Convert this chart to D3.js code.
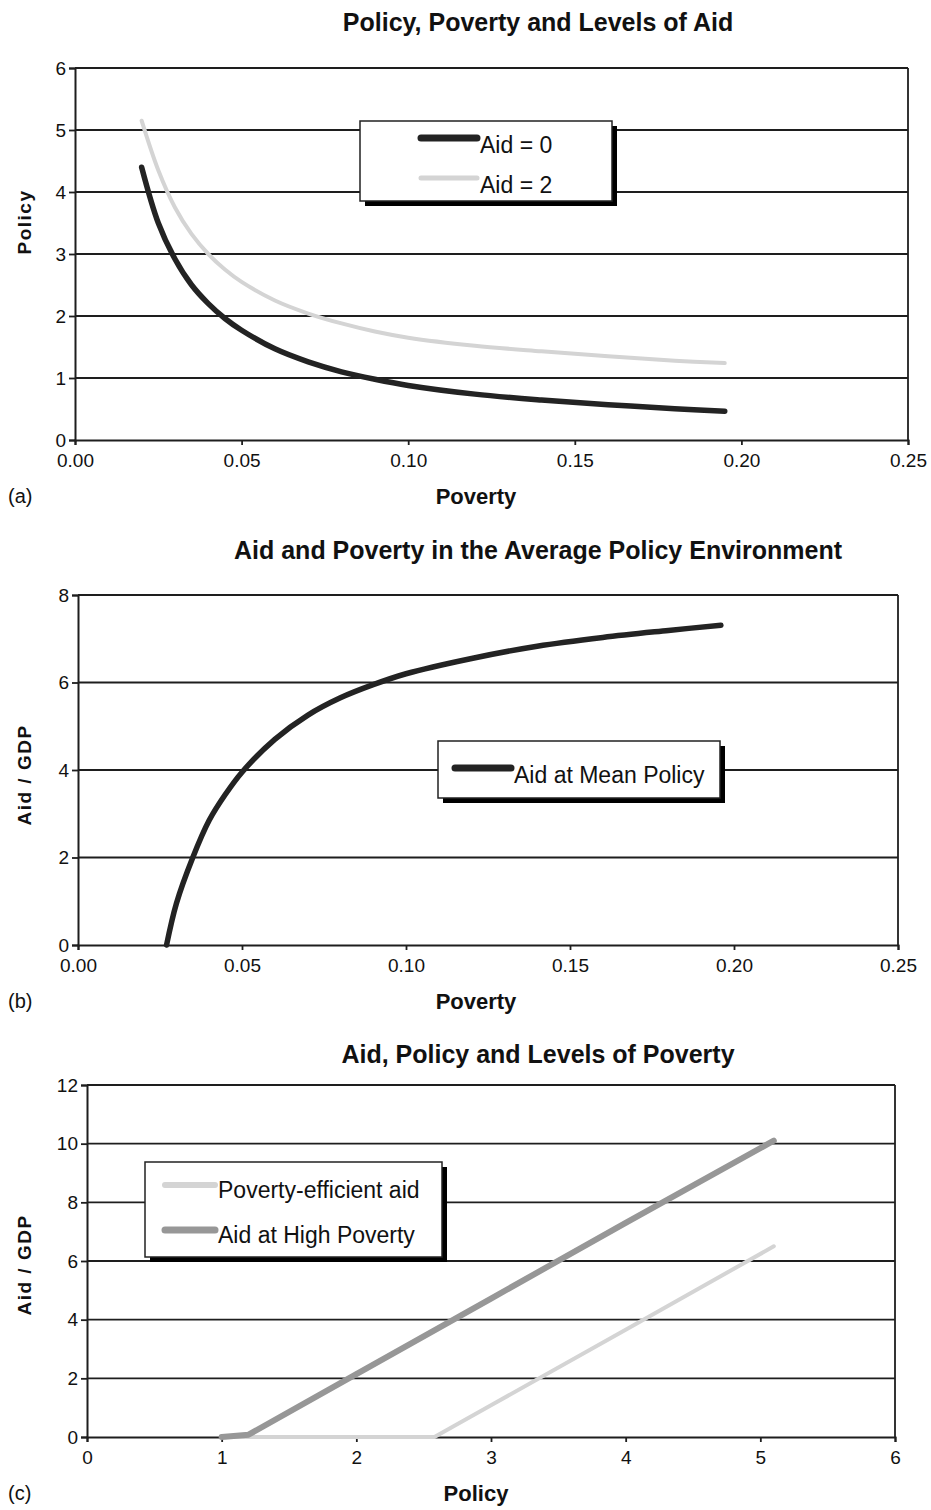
<!DOCTYPE html>
<html>
<head>
<meta charset="utf-8">
<script src="https://cdn.jsdelivr.net/npm/d3@7"></script>
<style>
  body { margin: 0; background: #fff; }
  text { font-family: "Liberation Sans", Arial, sans-serif; fill: #111; }
  .title { font-size: 25px; font-weight: bold; }
  .axisTitle { font-size: 22px; font-weight: bold; }
  .yTitle { font-size: 19px; font-weight: bold; letter-spacing: 1.5px; }
  .tickLbl { font-size: 19px; }
  .legendLbl { font-size: 23px; }
  .panelLbl { font-size: 20px; }
</style>
</head>
<body>
<svg id="chart" width="931" height="1510"></svg>
<script>
// panel (a): policy vs poverty
var povertyA   = [0.020, 0.025, 0.030, 0.035, 0.040, 0.045, 0.050, 0.060, 0.070, 0.080, 0.090, 0.100, 0.120, 0.140, 0.160, 0.180, 0.195];
var policyAid0 = [4.40, 3.50, 2.92, 2.50, 2.20, 1.96, 1.77, 1.47, 1.26, 1.10, 0.98, 0.88, 0.74, 0.645, 0.57, 0.505, 0.465];
var policyAid2 = [5.15, 4.35, 3.75, 3.32, 3.00, 2.75, 2.55, 2.25, 2.04, 1.88, 1.75, 1.65, 1.52, 1.43, 1.35, 1.28, 1.24];

// panel (b): aid vs poverty at mean policy
var povertyB      = [0.027, 0.030, 0.035, 0.040, 0.045, 0.050, 0.060, 0.070, 0.080, 0.090, 0.100, 0.120, 0.140, 0.160, 0.180, 0.196];
var aidMeanPolicy = [0.00, 0.95, 2.00, 2.85, 3.45, 3.95, 4.70, 5.25, 5.65, 5.95, 6.20, 6.55, 6.83, 7.03, 7.19, 7.31];

// panel (c): aid vs policy
var policyHigh     = [1.0, 1.2, 2.0, 3.0, 4.0, 5.1];
var aidHighPoverty = [0.0, 0.08, 2.14, 4.72, 7.3, 10.1];
var policyEff      = [1.0, 2.58, 3.0, 4.0, 5.1];
var aidEfficient   = [0.0, 0.0, 1.08, 3.66, 6.5];

var xTicksPoverty = [0, 0.05, 0.10, 0.15, 0.20, 0.25];
var yTicksA = [0, 1, 2, 3, 4, 5, 6];
var yTicksB = [0, 2, 4, 6, 8];
var xTicksC = [0, 1, 2, 3, 4, 5, 6];
var yTicksC = [0, 2, 4, 6, 8, 10, 12];

var BLACK = "#232323", LIGHT = "#d4d4d4", MID = "#979797";

function zip(xs, ys) { return xs.map(function(v, i) { return [v, ys[i]]; }); }

var smooth = d3.curveCatmullRom.alpha(0.5);

var panels = [
  {
    title: "Policy, Poverty and Levels of Aid", titleY: 31, tag: "(a)",
    xLabel: "Poverty", yLabel: "Policy", yLabelY: 222, curve: smooth,
    xDomain: [0, 0.25], xRange: [75, 908], xTicks: xTicksPoverty, xFmt: d3.format(".2f"),
    yDomain: [0, 6], yRange: [440, 68], yTicks: yTicksA,
    series: [
      {name: "Aid = 0", data: zip(povertyA, policyAid0), color: BLACK, width: 5.5, legW: 7},
      {name: "Aid = 2", data: zip(povertyA, policyAid2), color: LIGHT, width: 4, legW: 5}
    ],
    legend: {x: 360, y: 121, w: 252, h: 80, lineX: 421, lineLen: 56, rows: [138, 178], dy: 15}
  },
  {
    title: "Aid and Poverty in the Average Policy Environment", titleY: 559, tag: "(b)",
    xLabel: "Poverty", yLabel: "Aid / GDP", yLabelY: 775, curve: smooth,
    xDomain: [0, 0.25], xRange: [78, 898], xTicks: xTicksPoverty, xFmt: d3.format(".2f"),
    yDomain: [0, 8], yRange: [945, 595], yTicks: yTicksB,
    series: [
      {name: "Aid at Mean Policy", data: zip(povertyB, aidMeanPolicy), color: BLACK, width: 5.5, legW: 7}
    ],
    legend: {x: 438, y: 741, w: 282, h: 57, lineX: 455, lineLen: 56, rows: [768], dy: 15}
  },
  {
    title: "Aid, Policy and Levels of Poverty", titleY: 1063, tag: "(c)",
    xLabel: "Policy", yLabel: "Aid / GDP", yLabelY: 1265, curve: d3.curveLinear,
    xDomain: [0, 6], xRange: [87, 895], xTicks: xTicksC, xFmt: d3.format("d"),
    yDomain: [0, 12], yRange: [1437, 1085], yTicks: yTicksC,
    series: [
      {name: "Poverty-efficient aid", data: zip(policyEff, aidEfficient), color: LIGHT, width: 4, legW: 6},
      {name: "Aid at High Poverty", data: zip(policyHigh, aidHighPoverty), color: MID, width: 6, legW: 7}
    ],
    legend: {x: 145, y: 1162, w: 297, h: 95, lineX: 165, lineLen: 50, rows: [1185, 1230], dy: 13}
  }
];

var svg = d3.select("#chart");

panels.forEach(function(p) {
  var x = d3.scaleLinear().domain(p.xDomain).range(p.xRange);
  var y = d3.scaleLinear().domain(p.yDomain).range(p.yRange);
  var g = svg.append("g");

  // gridlines + frame
  g.selectAll(".grid").data(p.yTicks.slice(1)).enter().append("line")
    .attr("x1", p.xRange[0]).attr("x2", p.xRange[1])
    .attr("y1", function(d) { return y(d); }).attr("y2", function(d) { return y(d); })
    .attr("stroke", "#1e1e1e").attr("stroke-width", 1.8);
  g.append("line")
    .attr("x1", p.xRange[1]).attr("x2", p.xRange[1])
    .attr("y1", p.yRange[0]).attr("y2", p.yRange[1])
    .attr("stroke", "#1e1e1e").attr("stroke-width", 1.8);

  // axes
  var ya = g.append("g").attr("transform", "translate(" + p.xRange[0] + ",0)")
    .call(d3.axisLeft(y).tickValues(p.yTicks).tickSize(6).tickPadding(3).tickFormat(d3.format("d")));
  var xa = g.append("g").attr("transform", "translate(0," + p.yRange[0] + ")")
    .call(d3.axisBottom(x).tickValues(p.xTicks).tickSize(5).tickPadding(9).tickFormat(p.xFmt));
  [ya, xa].forEach(function(a) {
    a.select(".domain").attr("stroke", "#1e1e1e").attr("stroke-width", 2);
    a.selectAll(".tick line").attr("stroke", "#1e1e1e").attr("stroke-width", 1.8);
    a.selectAll(".tick text").attr("class", "tickLbl").attr("fill", "#111");
    a.attr("font-size", null).attr("font-family", null);
  });

  // curves
  var line = d3.line().x(function(d) { return x(d[0]); }).y(function(d) { return y(d[1]); })
    .curve(p.curve);
  p.series.forEach(function(s) {
    g.append("path").datum(s.data).attr("d", line)
      .attr("fill", "none").attr("stroke", s.color).attr("stroke-width", s.width)
      .attr("stroke-linecap", "round").attr("stroke-linejoin", "round");
  });

  // titles
  g.append("text").attr("class", "title").attr("x", 538).attr("y", p.titleY)
    .attr("text-anchor", "middle").text(p.title);
  g.append("text").attr("class", "axisTitle").attr("x", 476).attr("y", p.yRange[0] + 64)
    .attr("text-anchor", "middle").text(p.xLabel);
  g.append("text").attr("class", "yTitle")
    .attr("transform", "translate(31," + p.yLabelY + ") rotate(-90)")
    .attr("text-anchor", "middle").text(p.yLabel);
  g.append("text").attr("class", "panelLbl").attr("x", 8).attr("y", p.yRange[0] + 63).text(p.tag);

  // legend with drop shadow
  var L = p.legend;
  var lg = g.append("g");
  lg.append("rect").attr("x", L.x + 5).attr("y", L.y + 5).attr("width", L.w).attr("height", L.h).attr("fill", "#000");
  lg.append("rect").attr("x", L.x).attr("y", L.y).attr("width", L.w).attr("height", L.h)
    .attr("fill", "#fff").attr("stroke", "#222").attr("stroke-width", 1.5);
  p.series.forEach(function(s, i) {
    var ry = L.rows[i];
    lg.append("line").attr("x1", L.lineX).attr("x2", L.lineX + L.lineLen)
      .attr("y1", ry).attr("y2", ry)
      .attr("stroke", s.color).attr("stroke-width", s.legW).attr("stroke-linecap", "round");
    lg.append("text").attr("class", "legendLbl").attr("x", L.lineX + L.lineLen + 3).attr("y", ry + L.dy).text(s.name);
  });
});
</script>
</body>
</html>
